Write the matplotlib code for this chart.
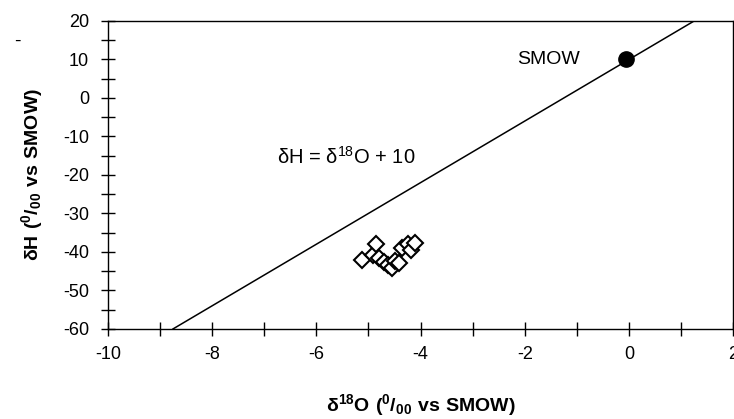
import numpy as np
import matplotlib
matplotlib.use('Agg')
from matplotlib import pyplot as plt
from matplotlib.ticker import MultipleLocator

plt.rcParams['font.family'] = 'Liberation Sans'
plt.rcParams['mathtext.fontset'] = 'custom'
plt.rcParams['mathtext.rm'] = 'Liberation Sans'
plt.rcParams['mathtext.bf'] = 'Liberation Sans:bold'
plt.rcParams['axes.unicode_minus'] = False

# samples (d18O, dH)
d18O = [-5.12, -4.92, -4.85, -4.80, -4.70, -4.62, -4.55, -4.50, -4.42, -4.35, -4.25, -4.18, -4.10]
dH = [-42.0, -40.8, -38.0, -41.5, -42.5, -43.5, -44.2, -42.3, -42.8, -39.0, -38.0, -39.5, -37.8]

# SMOW reference point
smow_x = [-0.05]
smow_y = [10]

# meteoric water line
gmwl_slope = 8
gmwl_intercept = 10

fig = plt.figure(figsize=(7.34, 4.19), dpi=100)
ax = fig.add_axes([0.147, 0.215, 0.852, 0.735])

ax.axline((0, gmwl_intercept), slope=gmwl_slope, color='black', lw=1.1)
ax.plot(d18O, dH, 'D', ms=8.5, mfc='white', mec='black', mew=1.5, ls='none')
ax.plot(smow_x, smow_y, 'o', ms=11, color='black')

ax.text(-1.55, 10, 'SMOW', fontsize=14, ha='center', va='center')
ax.text(-6.75, -15.3, r'δH = δ$^{18}$O + 10', fontsize=14.5,
        ha='left', va='center')

ax.set_xlim(-10, 2)
ax.set_ylim(-60, 20)
ax.xaxis.set_major_locator(MultipleLocator(2))
ax.xaxis.set_minor_locator(MultipleLocator(1))
ax.yaxis.set_major_locator(MultipleLocator(10))
ax.yaxis.set_minor_locator(MultipleLocator(5))
ax.tick_params(which='both', direction='inout', length=10, width=1, labelsize=13)
ax.tick_params(axis='x', pad=7)
ax.tick_params(axis='y', pad=8.5)

for s in ax.spines.values():
    s.set_linewidth(1)

ax.set_xlabel(r'$\mathbf{\delta^{18}O\ (^{0}/_{00}\ vs\ SMOW)}$', fontsize=14, labelpad=21)
ax.set_ylabel(r'$\mathbf{\delta H\ (^{0}/_{00}\ vs\ SMOW)}$', fontsize=14, labelpad=13)

fig.text(0.023, 0.902, '-', fontsize=14, ha='center', va='center')

fig.savefig('out.png', dpi=100)
